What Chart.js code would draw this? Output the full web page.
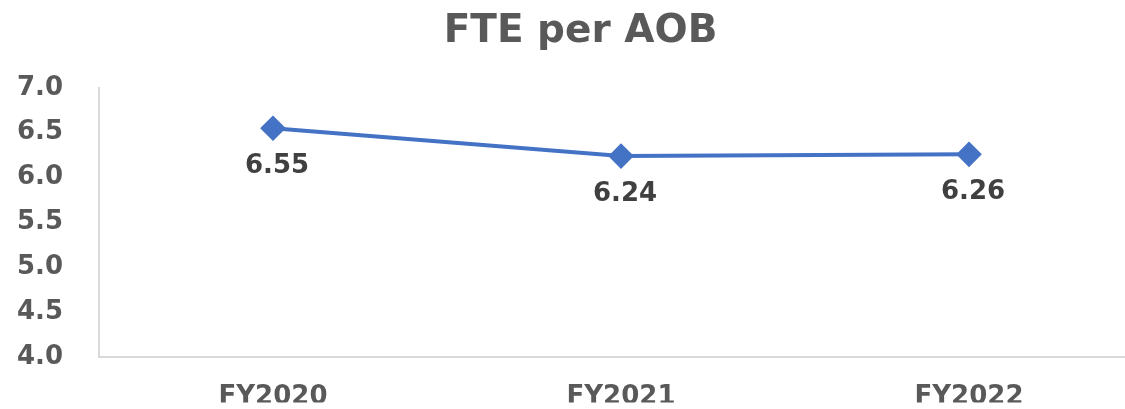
<!DOCTYPE html>
<html>
<head>
<meta charset="utf-8">
<script src="https://cdn.jsdelivr.net/npm/chart.js@4"></script>
<style>
  html, body { margin: 0; padding: 0; background: #fff; overflow: hidden; }
  #wrap { width: 1170px; height: 409px; }
</style>
</head>
<body>
<div id="wrap"><canvas id="fteChart"></canvas></div>
<script>
const categories = ['FY2020', 'FY2021', 'FY2022'];
const fteValues = [6.55, 6.24, 6.26];
const yTicks = [4.0, 4.5, 5.0, 5.5, 6.0, 6.5, 7.0];

const fontFamily = '"DejaVu Sans", Verdana, sans-serif';

// simple value labels under each point
const pointLabels = {
    id: 'pointLabels',
    afterDatasetsDraw(chart) {
        const c = chart.ctx;
        const meta = chart.getDatasetMeta(0);
        c.save();
        c.font = 'bold 26px ' + fontFamily;
        c.fillStyle = '#404040';
        c.textAlign = 'center';
        c.textBaseline = 'middle';
        meta.data.forEach((pt, i) => {
            c.fillText(fteValues[i].toFixed(2), pt.x + 4, pt.y + 38);
        });
        c.restore();
    }
};

const ctx = document.getElementById('fteChart').getContext('2d');
const fteChart = new Chart(ctx, {
    type: 'line',
    data: {
        labels: categories,
        datasets: [{
            label: 'FTE per AOB',
            data: fteValues,
            borderColor: '#4472C4',
            backgroundColor: '#4472C4',
            borderWidth: 4,
            pointStyle: 'rectRot',
            pointRadius: 10,
            pointHoverRadius: 10,
            tension: 0
        }]
    },
    plugins: [pointLabels],
    options: {
        responsive: true,
        maintainAspectRatio: false,
        animation: false,
        layout: { padding: { left: 18, right: 27, top: 0, bottom: 0 } },
        plugins: {
            legend: { display: false },
            tooltip: { enabled: false },
            title: {
                display: true,
                text: 'FTE per AOB',
                color: '#595959',
                font: { family: fontFamily, size: 39, weight: 'bold' },
                padding: { top: 8, bottom: 33 }
            }
        },
        scales: {
            x: {
                offset: true,
                grid: { display: false, drawTicks: false },
                border: { display: true, color: '#d9d9d9', width: 2 },
                afterFit: (axis) => { axis.height = 45; },
                ticks: {
                    color: '#595959',
                    padding: 24,
                    font: { family: fontFamily, size: 26, weight: 'bold' }
                }
            },
            y: {
                min: 4,
                max: 7,
                grid: { display: false, drawTicks: false },
                border: { display: true, color: '#d9d9d9', width: 2 },
                afterBuildTicks: (axis) => { axis.ticks = yTicks.map(v => ({ value: v })); },
                afterFit: (axis) => { axis.width = 81; },
                ticks: {
                    color: '#595959',
                    padding: 36,
                    font: { family: fontFamily, size: 26, weight: 'bold' },
                    callback: (v) => Number(v).toFixed(1)
                }
            }
        }
    }
});
</script>
</body>
</html>
